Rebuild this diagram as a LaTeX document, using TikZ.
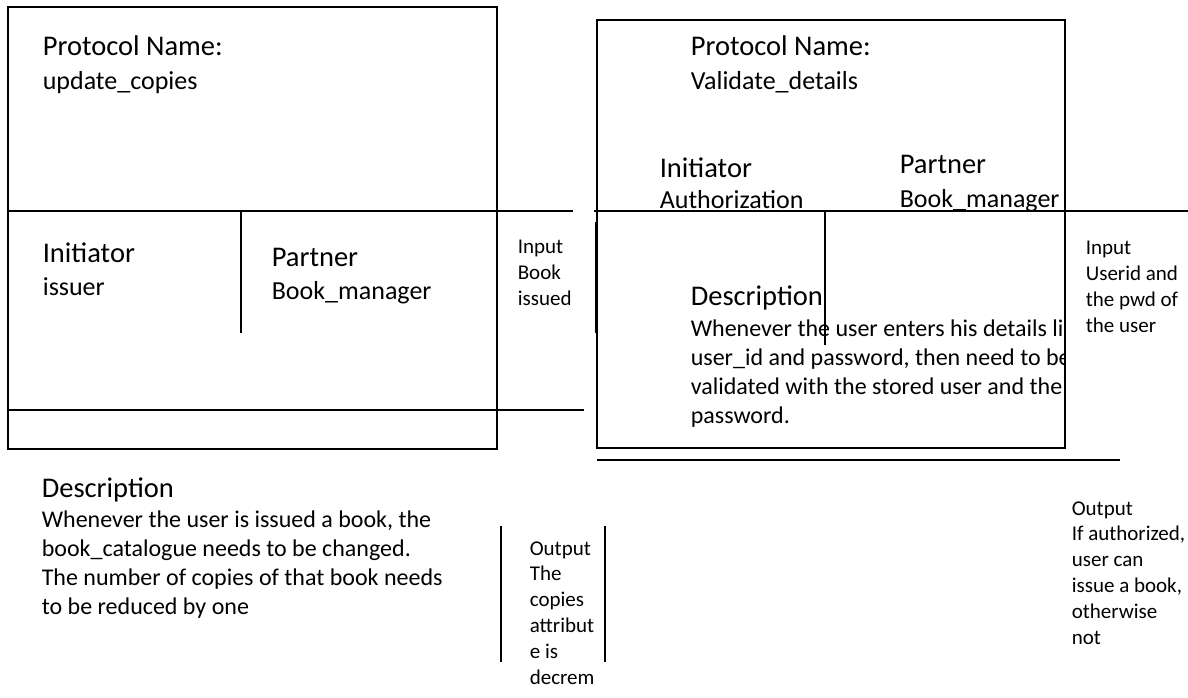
\documentclass[tikz,border=0pt]{standalone}
\usepackage{fontspec}
\setmainfont{Carlito}
\begin{document}
\begin{tikzpicture}[x=1pt,y=-1pt,line width=1.6pt,
  txt/.style={anchor=base west,inner sep=0pt,align=left},
  hd/.style={txt,font=\fontsize{28.5}{34}\selectfont},
  val/.style={txt,font=\fontsize{26}{31}\selectfont},
  body/.style={txt,font=\fontsize{24}{28.7}\selectfont},
  small/.style={txt,font=\fontsize{21}{25.8}\selectfont}]
\useasboundingbox (0,0) rectangle (1188,698);
% multi-line nodes are placed by the baseline of their last line
% ---------- left protocol ----------
\node[hd]  (pn1)  at (42,56)  {Protocol Name:};
\node[val] (pv1)  at (42,90)  {update\_copies};
\node[hd]  (in1)  at (42,262) {Initiator};
\node[val] (iv1)  at (42,295) {issuer};
\node[hd]  (pa1)  at (271,266) {Partner};
\node[val] (pav1) at (271,299) {Book\_manager};
\node[small] (inp1) at (517,305) {Input\\Book\\issued};
\node[hd]  (d1)   at (41,497) {Description};
\node[body] (db1) at (41,614) {Whenever the user is issued a book, the\\book\_catalogue needs to be changed.\\The number of copies of that book needs\\to be reduced by one};
\node[small] (out1) at (529,684) {Output\\The\\copies\\attribut\\e is\\decrem};
\draw (8,7) rectangle (497,449);
\draw (8,211) -- (573,211);
\draw (241,211) -- (241,333);
\draw (8,410) -- (584,410);
\draw (501,526) -- (501,662);
\draw (605,526) -- (605,662);
\draw (596,222) -- (596,333);
% ---------- right protocol ----------
\node[hd]  (pn2)  at (690,56)  {Protocol Name:};
\node[val] (pv2)  at (690,90)  {Validate\_details};
\node[hd]  (in2)  at (659,177) {Initiator};
\node[val] (iv2)  at (659,208) {Authorization};
\node[hd]  (pa2)  at (899,173) {Partner};
\node[val] (pav2) at (899,207) {Book\_manager};
\node[hd]  (d2)   at (690,305) {Description};
\begin{scope}
  \clip (597,212) rectangle (1065,448);
  \node[body] (db2) at (690,423) {Whenever the user enters his details li\\user\_id and password, then need to be\\validated with the stored user and the\\password.};
\end{scope}
\node[small] (inp2) at (1085,332) {Input\\Userid and\\the pwd of\\the user};
\node[small] (out2) at (1071,644) {Output\\If authorized,\\user can\\issue a book,\\otherwise\\not};
\draw (597,20) rectangle (1065,448);
\draw (594,211) -- (1188,211);
\draw (825,211) -- (825,345);
\draw (597,460) -- (1120,460);
\end{tikzpicture}
\end{document}
